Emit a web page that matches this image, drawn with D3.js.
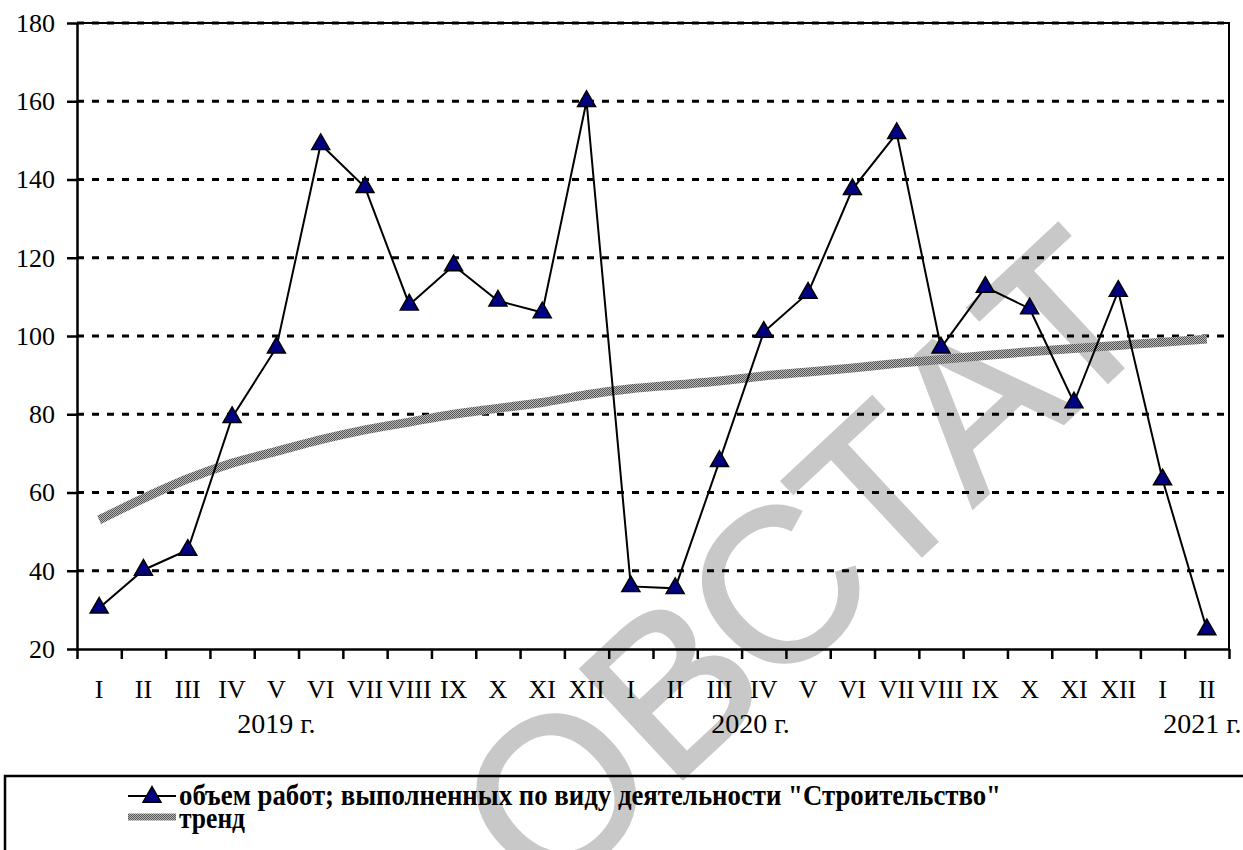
<!DOCTYPE html>
<meta charset="utf-8">
<script src="https://cdn.jsdelivr.net/npm/d3@7"></script>
<style>
  body { margin: 0; background: #fff; }
  svg text { font-family: "Liberation Serif", "Times New Roman", "DejaVu Serif", serif; }
</style>
<body>
<script>

// data
var months = ["I","II","III","IV","V","VI","VII","VIII","IX","X","XI","XII",
              "I","II","III","IV","V","VI","VII","VIII","IX","X","XI","XII",
              "I","II"];
var volume = [30.5, 40.2, 45.3, 79.2, 97, 149, 138, 108, 118, 109, 106, 160,
              36, 35.5, 68, 101, 111, 137.5, 151.8, 97, 112.5, 107, 83, 111.5,
              63.3, 25];
var trend = [53, 58.5, 63.5, 67.5, 70.5, 73.5, 76, 78, 80, 81.5, 83, 85,
             86.5, 87.5, 88.5, 89.8, 90.8, 91.8, 93, 94, 95, 96, 96.8, 97.6,
             98.4, 99.2];
var yTicks = [20, 40, 60, 80, 100, 120, 140, 160, 180];
var years = ["2019 г.", "2020 г.", "2021 г."];
var yearPos = [4.5, 15.2, 25.4];   // in month units
var seriesName = 'объем работ; выполненных по виду деятельности "Строительство"';
var trendName = "тренд";

// layout
var W = 1243, H = 850;
var margin = {top: 23, right: 14, bottom: 201, left: 77};
var width = W - margin.left - margin.right;
var height = H - margin.top - margin.bottom;

var svg = d3.select("body").append("svg")
    .attr("width", W)
    .attr("height", H);

var defs = svg.append("defs");
var pat = defs.append("pattern").attr("id", "dither")
    .attr("patternUnits", "userSpaceOnUse")
    .attr("width", 2).attr("height", 2);
pat.append("rect").attr("width", 2).attr("height", 2).attr("fill", "#b8b8b8");
pat.append("rect").attr("width", 1).attr("height", 1).attr("fill", "#555");
pat.append("rect").attr("x", 1).attr("y", 1).attr("width", 1).attr("height", 1).attr("fill", "#555");

// watermark (behind everything)
svg.append("text")
    .attr("transform", "translate(855,618) rotate(-43)")
    .attr("text-anchor", "middle")
    .style("font-family", "'Liberation Sans', Arial, sans-serif")
    .style("font-size", "218px")
    .style("fill", "#c8c8c8")
    .style("stroke", "#c8c8c8")
    .style("stroke-width", 3)
    .text("ОВСТАТ");

var g = svg.append("g")
    .attr("transform", "translate(" + margin.left + "," + margin.top + ")");

var x = d3.scaleLinear().domain([0, months.length]).range([0, width]);
var y = d3.scaleLinear().domain([20, 180]).range([height, 0]);

// gridlines
g.append("g").selectAll("line")
    .data(yTicks.filter(function(d) { return d > 20; }))
    .enter().append("line")
    .attr("x1", 0).attr("x2", width)
    .attr("y1", y).attr("y2", y)
    .attr("stroke", "#000")
    .attr("stroke-width", 3)
    .attr("stroke-dasharray", "7,8");

// plot border top/right
g.append("path")
    .attr("d", "M0,0H" + width + "V" + height)
    .attr("fill", "none")
    .attr("stroke", "#000")
    .attr("stroke-width", 2);

// axes
var yAxis = g.append("g")
    .call(d3.axisLeft(y).tickValues(yTicks).tickSize(10).tickSizeOuter(0).tickPadding(12));
var xAxis = g.append("g")
    .attr("transform", "translate(0," + height + ")")
    .call(d3.axisBottom(x).tickValues(d3.range(months.length + 1)).tickFormat("").tickSize(10).tickSizeOuter(0));

g.selectAll(".domain, .tick line").attr("stroke", "#000").attr("stroke-width", 2.5);
yAxis.attr("font-family", null).attr("font-size", null);
yAxis.selectAll("text")
    .style("font-size", "26px").attr("fill", "#000");

// month labels
g.append("g").selectAll("text")
    .data(months).enter().append("text")
    .attr("x", function(d, i) { return x(i + 0.5); })
    .attr("y", height + 49)
    .attr("text-anchor", "middle")
    .style("font-size", "26px")
    .text(String);

// year labels
g.append("g").selectAll("text")
    .data(years).enter().append("text")
    .attr("x", function(d, i) { return x(yearPos[i]); })
    .attr("y", height + 84)
    .attr("text-anchor", "middle")
    .style("font-size", "28px")
    .text(String);

// trend line
var line = d3.line()
    .x(function(d, i) { return x(i + 0.5); })
    .y(function(d) { return y(d); })
    .curve(d3.curveMonotoneX);
g.append("path")
    .datum(trend)
    .attr("d", line)
    .attr("fill", "none")
    .attr("stroke", "url(#dither)")
    .attr("stroke-width", 9);

// series line
g.append("path")
    .datum(volume)
    .attr("d", d3.line().x(function(d, i) { return x(i + 0.5); }).y(function(d) { return y(d); }))
    .attr("fill", "none")
    .attr("stroke", "#000")
    .attr("stroke-width", 2);

var tri = d3.symbol().type(d3.symbolTriangle).size(140);
g.append("g").selectAll("path")
    .data(volume).enter().append("path")
    .attr("d", tri)
    .attr("transform", function(d, i) { return "translate(" + x(i + 0.5) + "," + y(d) + ")"; })
    .attr("fill", "#000080")
    .attr("stroke", "#000")
    .attr("stroke-width", 1.5);

// legend
var lg = svg.append("g");
lg.append("rect")
    .attr("x", 5).attr("y", 776)
    .attr("width", 1300).attr("height", 120)
    .attr("fill", "none")
    .attr("stroke", "#000")
    .attr("stroke-width", 2.5);

lg.append("line").attr("x1", 128).attr("x2", 176).attr("y1", 796).attr("y2", 796)
    .attr("stroke", "#000").attr("stroke-width", 2);
lg.append("path").attr("d", tri).attr("transform", "translate(152,797)")
    .attr("fill", "#000080").attr("stroke", "#000").attr("stroke-width", 1.5);
lg.append("text").attr("x", 179).attr("y", 805)
    .style("font-size", "29px").style("font-weight", "bold")
    .attr("textLength", 822).attr("lengthAdjust", "spacingAndGlyphs")
    .text(seriesName);

lg.append("line").attr("x1", 128).attr("x2", 176).attr("y1", 817).attr("y2", 817)
    .attr("stroke", "url(#dither)").attr("stroke-width", 7);
lg.append("text").attr("x", 179).attr("y", 828)
    .style("font-size", "29px").style("font-weight", "bold")
    .attr("textLength", 66).attr("lengthAdjust", "spacingAndGlyphs")
    .text(trendName);

</script>
</body>
</html>
